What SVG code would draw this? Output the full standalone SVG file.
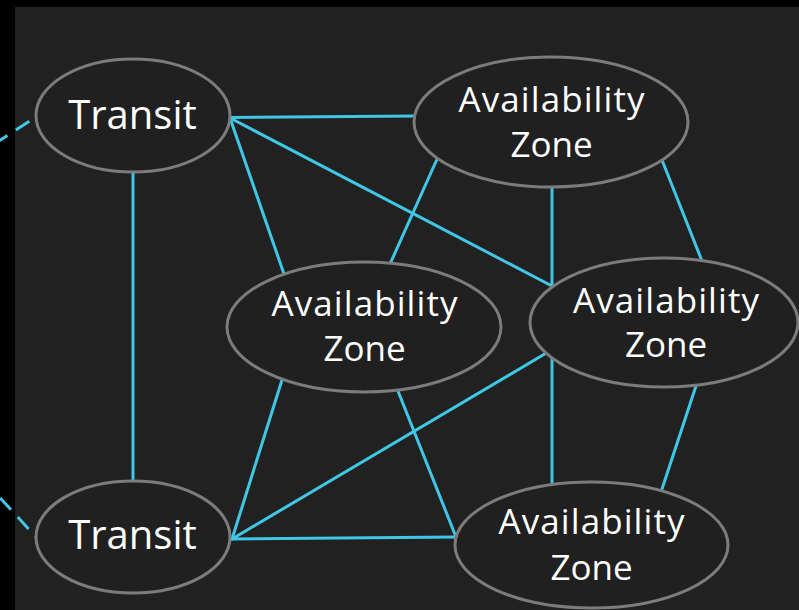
<svg xmlns="http://www.w3.org/2000/svg" width="799" height="610" viewBox="0 0 799 610">
  <style>
    .link { stroke: #3fc8e6; stroke-width: 3; fill: none; stroke-linecap: round; }
    .dash { stroke-dasharray: 16 10; stroke-linecap: butt; }
    .node ellipse { fill: #202020; stroke: #7c7c7c; stroke-width: 3; }
    .node text { fill: #ffffff; font-family: "Open Sans", "Noto Sans", sans-serif; text-anchor: middle; }
    .t { font-size: 40px; }
    .az { font-size: 35px; }
  </style>
  <rect x="0" y="0" width="799" height="610" fill="#000000"/>
  <rect x="15" y="7" width="784" height="603" fill="#212121"/>

  <g id="connectors">
    <!-- links leaving the frame -->
    <path class="link dash" d="M36 117 L-40 166" stroke-dashoffset="-8"/>
    <path class="link dash" d="M36 537 L-30 465" stroke-dashoffset="15"/>
    <!-- transit to transit -->
    <line class="link" x1="133" y1="170" x2="133" y2="483"/>
    <!-- upper transit -->
    <line class="link" x1="230" y1="117.5" x2="416" y2="116"/>
    <line class="link" x1="230" y1="118" x2="284" y2="274"/>
    <line class="link" x1="230" y1="118" x2="552" y2="286"/>
    <!-- top zone -->
    <line class="link" x1="438" y1="157" x2="390" y2="264"/>
    <line class="link" x1="552" y1="185" x2="552" y2="286"/>
    <line class="link" x1="662" y1="160" x2="702" y2="261"/>
    <!-- lower transit -->
    <line class="link" x1="232" y1="539" x2="282" y2="380"/>
    <line class="link" x1="232" y1="539" x2="548" y2="352"/>
    <line class="link" x1="232" y1="539" x2="457" y2="537"/>
    <!-- middle zones to bottom zone -->
    <line class="link" x1="398" y1="391" x2="456" y2="537"/>
    <line class="link" x1="552" y1="356" x2="552" y2="484"/>
    <line class="link" x1="696" y1="386" x2="662" y2="489"/>
  </g>

  <g id="transit-upper" class="node">
    <ellipse cx="133" cy="115.5" rx="97" ry="56.5"/>
    <text class="t" x="132.5" y="129">Transit</text>
  </g>
  <g id="transit-lower" class="node">
    <ellipse cx="133" cy="537" rx="97" ry="56"/>
    <text class="t" x="132.5" y="549">Transit</text>
  </g>
  <g id="az-top" class="node">
    <ellipse cx="551" cy="122" rx="137" ry="65"/>
    <text class="az" x="551.5" y="112" textLength="186" lengthAdjust="spacing">Availability</text>
    <text class="az" x="551.5" y="157">Zone</text>
  </g>
  <g id="az-middle" class="node">
    <ellipse cx="364" cy="327" rx="137" ry="65"/>
    <text class="az" x="364.5" y="316" textLength="186" lengthAdjust="spacing">Availability</text>
    <text class="az" x="364.5" y="361">Zone</text>
  </g>
  <g id="az-right" class="node">
    <ellipse cx="664" cy="322.5" rx="134" ry="64.5"/>
    <text class="az" x="666" y="313" textLength="186" lengthAdjust="spacing">Availability</text>
    <text class="az" x="666" y="357">Zone</text>
  </g>
  <g id="az-bottom" class="node">
    <ellipse cx="591.5" cy="545" rx="136.5" ry="63"/>
    <text class="az" x="591.5" y="534" textLength="186" lengthAdjust="spacing">Availability</text>
    <text class="az" x="591.5" y="580">Zone</text>
  </g>
</svg>
